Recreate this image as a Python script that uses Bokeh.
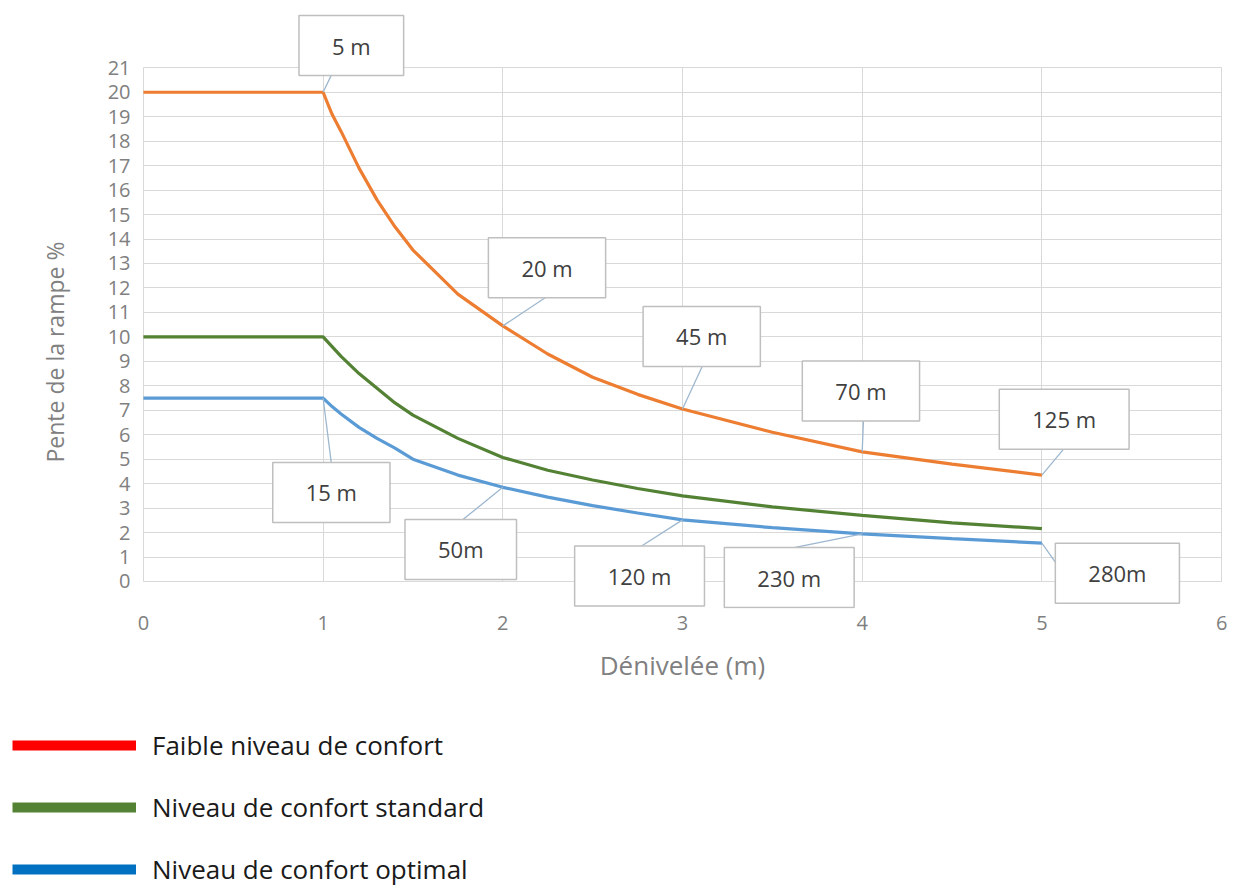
from bokeh.plotting import figure
from bokeh.layouts import column
from bokeh.models import (Label, Legend, LegendItem, FixedTicker, Range1d,
                          ColumnDataSource, Title)
from bokeh.embed import file_html
from bokeh.resources import INLINE

# ---------------- data ----------------
denivelee = [0, 1, 1.05, 1.1, 1.2, 1.3, 1.4, 1.5, 1.75, 2, 2.25, 2.5, 2.75, 3, 3.5, 4, 4.5, 5]
faible = [20, 20, 19.1, 18.4, 16.9, 15.6, 14.5, 13.55, 11.75, 10.45, 9.3, 8.35, 7.65, 7.05, 6.1, 5.3, 4.8, 4.35]
standard = [10, 10, 9.6, 9.2, 8.5, 7.9, 7.3, 6.8, 5.85, 5.07, 4.55, 4.15, 3.8, 3.5, 3.05, 2.7, 2.4, 2.16]
optimal = [7.5, 7.5, 7.15, 6.85, 6.3, 5.85, 5.45, 5.0, 4.35, 3.85, 3.45, 3.1, 2.8, 2.52, 2.2, 1.95, 1.75, 1.57]

series_names = ["Faible niveau de confort", "Niveau de confort standard", "Niveau de confort optimal"]
x_ticks = [0, 1, 2, 3, 4, 5, 6]
y_ticks = list(range(0, 22))

label_at = [1, 2, 3, 4, 5]
labels_faible = ["5 m", "20 m", "45 m", "70 m", "125 m"]
labels_optimal = ["15 m", "50m", "120 m", "230 m", "280m"]

# ---------------- styles / layout ----------------
curve_colors = ["#ED7D31", "#548235", "#5B9BD5"]
legend_colors = ["#FF0000", "#548235", "#0070C0"]
FONT = "Open Sans"
GRID = "#d9d9d9"

# callout placement: (box centre x, box centre y, leader end x, leader end y)
faible_boxes = [(1.157, 21.91, 1.046, 20.70), (2.246, 12.83, 2.24, 11.62),
                (3.107, 10.02, 3.118, 8.92), (3.993, 7.79, 4.007, 6.59),
                (5.124, 6.63, 5.124, 5.44)]
optimal_boxes = [(1.046, 3.64, 1.046, 4.83), (1.766, 1.31, 1.78, 2.54),
                 (2.761, 0.225, 2.768, 1.43), (3.594, 0.16, 3.60, 1.35),
                 (5.42, 0.34, 5.10, 0.53)]

# frame extends a little beyond the 0..21 grid so the callout boxes are not clipped
p = figure(width=1233, height=700, x_range=Range1d(-0.005, 6.005),
           y_range=Range1d(-1.104, 23.261),
           output_backend="svg", toolbar_location=None,
           min_border_left=142, min_border_right=11, min_border_top=12,
           min_border_bottom=92)

p.outline_line_color = None
p.xaxis.ticker = FixedTicker(ticks=x_ticks)
p.yaxis.ticker = FixedTicker(ticks=y_ticks)
for g in (p.xgrid, p.ygrid):
    g.grid_line_color = GRID
    g.grid_line_width = 1
p.ygrid.bounds = (0, 21)
if "cross_bounds" in p.xgrid[0].properties():
    p.xgrid.cross_bounds = (0, 21)
    p.ygrid.cross_bounds = (0, 6)
else:
    p.xgrid.visible = False
    p.segment(x0=x_ticks, y0=[0] * len(x_ticks), x1=x_ticks,
              y1=[21] * len(x_ticks), line_color=GRID, line_width=1)

for ax in (p.xaxis, p.yaxis):
    ax.axis_line_color = None
    ax.major_tick_line_color = None
    ax.minor_tick_line_color = None
    ax.major_label_text_font = FONT
    ax.major_label_text_font_size = "20px"
    ax.major_label_text_color = "#808080"
    ax.axis_label_text_font = FONT
    ax.axis_label_text_font_style = "normal"
    ax.axis_label_text_color = "#808080"

p.xaxis.axis_label = "Dénivelée (m)"
p.xaxis.axis_label_text_font_size = "26px"
p.xaxis.major_label_standoff = 1
p.xaxis.axis_label_standoff = 14
p.yaxis.major_label_standoff = 6

ytitle = Title(text="Pente de la rampe %", align="left", offset=146,
               text_font=FONT, text_font_size="23px", text_font_style="normal",
               text_color="#808080", standoff=68)
p.add_layout(ytitle, "left")

series = [faible, standard, optimal]
for ys, col in zip(series, curve_colors):
    p.line(denivelee, ys, line_color=col, line_width=3.2)

# leader lines from the curve points to the callout boxes
def callouts(values, boxes, labels):
    x0, y0, x1, y1 = [], [], [], []
    for xv, b in zip(label_at, boxes):
        i = denivelee.index(xv)
        x0.append(xv); y0.append(values[i]); x1.append(b[2]); y1.append(b[3])
    p.segment(x0=x0, y0=y0, x1=x1, y1=y1, line_color="#9DB7CF", line_width=1.3)
    for txt, b in zip(labels, boxes):
        p.add_layout(Label(x=b[0], y=b[1], text=txt, text_align="center",
                           text_baseline="middle", text_font=FONT,
                           text_font_size="22px", text_color="#404040",
                           background_fill_color="white",
                           border_line_color="#bfbfbf", border_line_width=1.5,
                           padding=(33, 33, 15, 15)))

callouts(faible, faible_boxes, labels_faible)
callouts(optimal, optimal_boxes, labels_optimal)

# ---------------- legend (own strip below the chart) ----------------
lf = figure(width=1233, height=188, x_range=Range1d(0, 1), y_range=Range1d(0, 1),
            output_backend="svg", toolbar_location=None, min_border=0)
lf.axis.visible = False
lf.grid.visible = False
lf.outline_line_color = None
if "frame_align" in lf.properties():
    lf.frame_align = False
    p.frame_align = False

items = []
for name, col in zip(series_names, legend_colors):
    # one-point proxy line (draws nothing in the strip, only feeds the legend)
    r = lf.line(x="x", y="y", source=ColumnDataSource(dict(x=[-1.0], y=[-1.0])),
                line_color=col, line_width=10)
    items.append(LegendItem(label=name, renderers=[r]))

legend = Legend(items=items, location=(12, 1), orientation="vertical",
                border_line_color=None, background_fill_alpha=0,
                padding=0, margin=0, spacing=26, glyph_width=124,
                glyph_height=26, label_height=26, label_standoff=16,
                label_text_font=FONT, label_text_font_size="26px",
                label_text_color="#1a1a1a")
lf.add_layout(legend)

layout = column(p, lf, spacing=0)
open("out.html", "w").write(file_html(layout, INLINE))
